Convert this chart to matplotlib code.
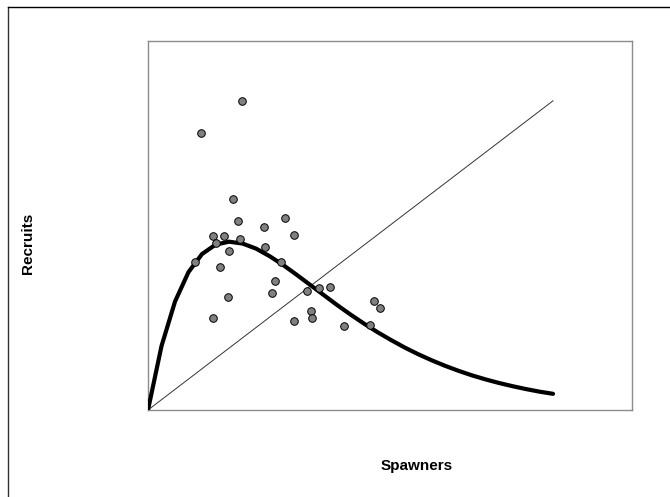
import numpy as np
import matplotlib
matplotlib.use('Agg')
import matplotlib.pyplot as plt
from matplotlib.lines import Line2D

spawners = [694, 390, 632, 669, 1015, 857, 1079, 479, 565, 679,
            504, 867, 600, 350, 985, 533, 941, 918, 593, 1178,
            1264, 1348, 1672, 1716, 1207, 1217, 1079, 481, 1452, 1647]
recruits = [3001, 2687, 2044, 1834, 1866, 1773, 1695, 1691, 1688, 1656,
            1620, 1584, 1543, 1439, 1433, 1384, 1254, 1132, 1097, 1158,
            1181, 1190, 1061, 993, 958, 896, 866, 890, 815, 825]

## Fitted curve, read at every 100 spawners
curve_s = [0, 100, 200, 300, 400, 500, 600, 700, 800, 900, 1000,
           1100, 1200, 1300, 1400, 1500, 1600, 1700, 1800, 1900, 2000,
           2100, 2200, 2300, 2400, 2500, 2600, 2700, 2800, 2900, 3000]
curve_r = [0, 620, 1052, 1338, 1513, 1604, 1633, 1615, 1566, 1493, 1408,
           1313, 1215, 1117, 1019, 926, 838, 755, 679, 607, 542,
           483, 429, 380, 336, 297, 262, 231, 203, 178, 157]

## Replacement line (1:1)
line_s = [0, 3000]

fig = plt.figure(figsize=(6.7, 4.97), dpi=100)
ax = fig.add_axes([148/670, 1 - 410/497, 484/670, 369/497])

ax.plot(line_s, line_s, color='#333333', lw=0.7, zorder=2)
ax.plot(curve_s, curve_r, color='black', lw=3, solid_capstyle='round', zorder=3)
ax.scatter(spawners, recruits, s=30, facecolor='#808080', edgecolor='black',
           linewidths=0.7, zorder=4)

ax.set_xlim(0, 3585)
ax.set_ylim(0, 3580)
ax.set_xticks([])
ax.set_yticks([])
for sp in ax.spines.values():
    sp.set_color('#8c8c8c')
    sp.set_linewidth(1.0)

## Axis titles placed where they sit in the original
fig.text(417/670, 1 - 466/497, 'Spawners', ha='center', va='center',
         fontsize=11, fontweight='bold', family='Liberation Sans')
fig.text(28/670, 1 - 243/497, 'Recruits', ha='center', va='center', rotation=90,
         fontsize=11, fontweight='bold', family='Liberation Sans')

## Outer chart frame (left and top edges only are visible)
fig.add_artist(Line2D([8/670, 8/670], [0, 1 - 7/497], color='#333333', lw=1.0))
fig.add_artist(Line2D([8/670, 1], [1 - 7/497, 1 - 7/497], color='black', lw=1.0))

plt.savefig('out.png', dpi=100)
plt.close()
